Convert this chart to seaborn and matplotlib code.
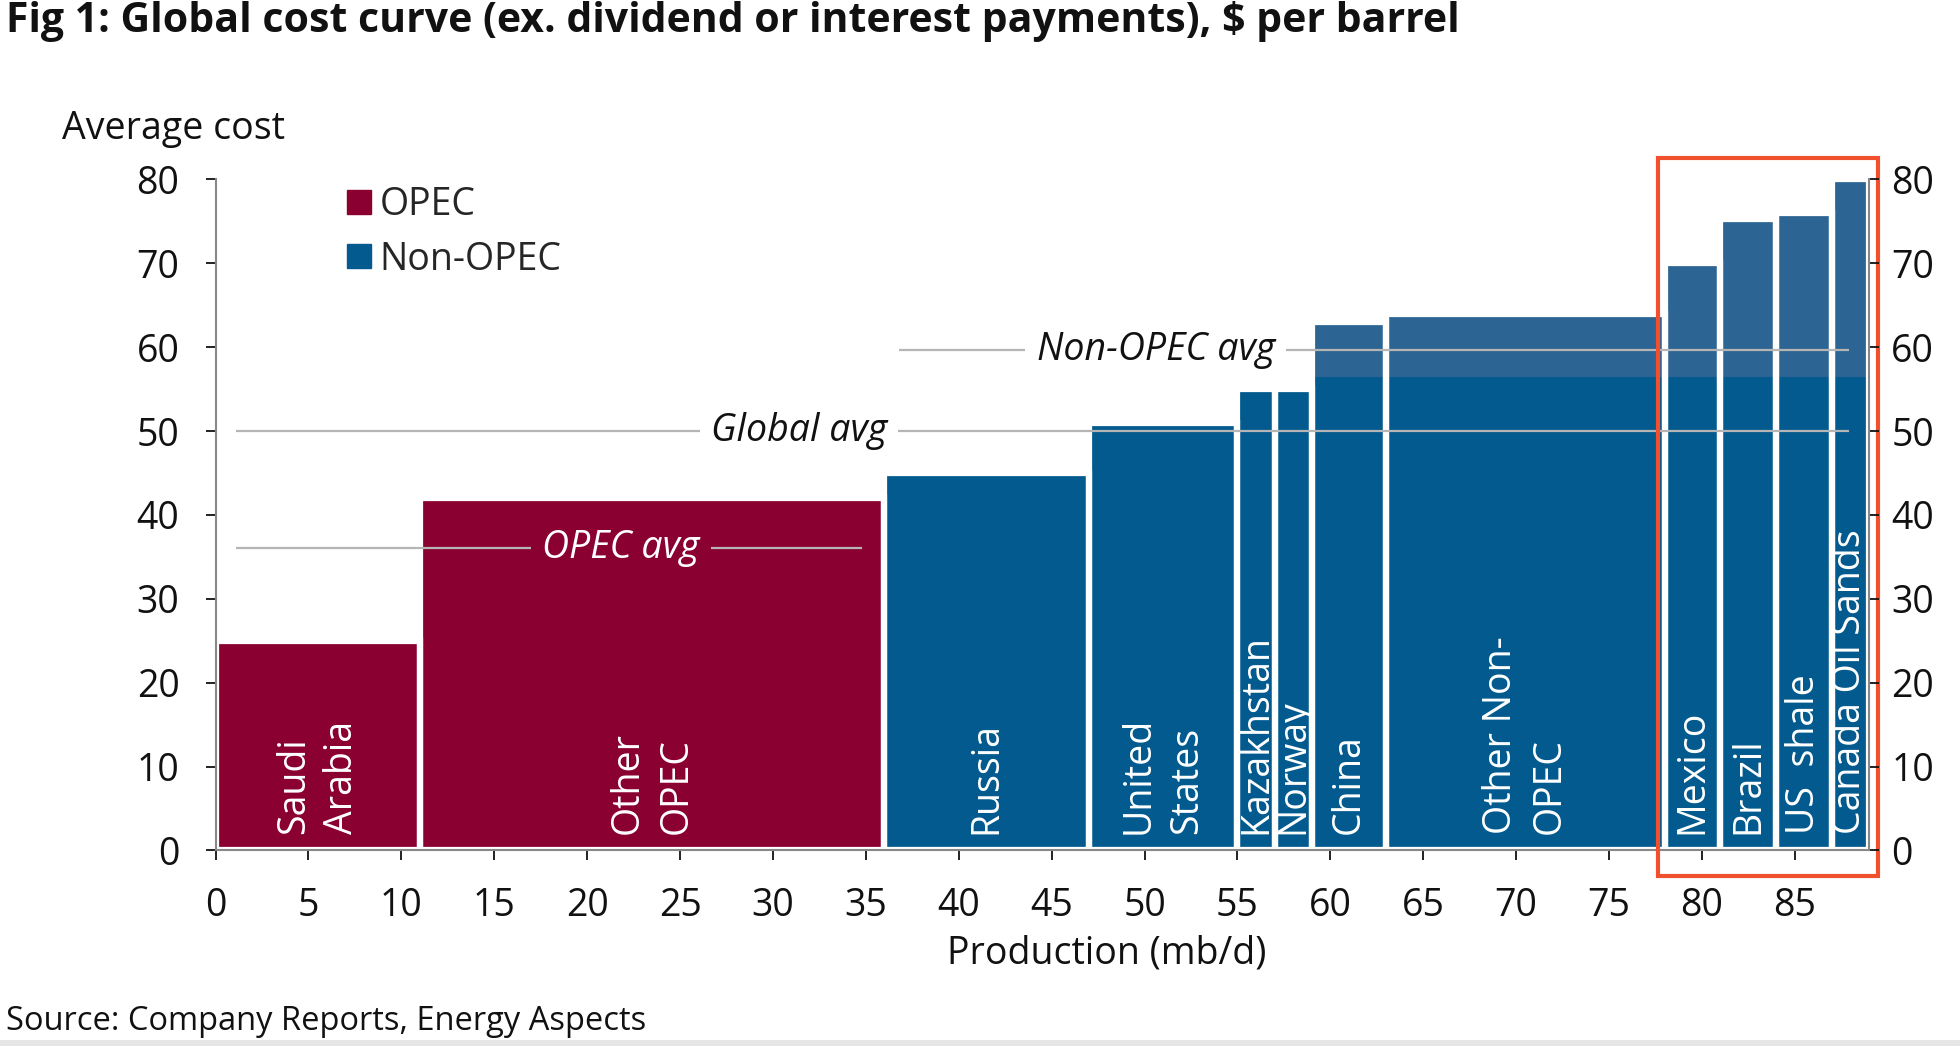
import matplotlib
matplotlib.use("Agg")
import matplotlib.pyplot as plt
from matplotlib.lines import Line2D
from matplotlib.patches import Rectangle
import numpy as np
import pandas as pd
import seaborn as sns

# Cost curve data (production in mb/d, cost in $/bbl)
regions = ["Saudi\nArabia", "Other\nOPEC", "Russia", "United\nStates", "Kazakhstan", "Norway",
           "China", "Other Non-\nOPEC", "Mexico", "Brazil", "US  shale", "Canada Oil Sands"]
groups = ["OPEC", "OPEC"] + ["Non-OPEC"] * 10
production = [11, 25, 11, 8, 2, 2, 4, 15, 3, 3, 3, 2]
avg_cost = [25, 42, 45, 51, 55, 55, 63, 64, 70, 75.3, 76, 80]

avg_names = ["OPEC avg", "Global avg", "Non-OPEC avg"]
avg_values = [36, 50, 59.6]

OPEC_RED = "#8a0030"
NON_OPEC_BLUE = "#025a8e"
LIGHT_BLUE = "#2c6493"
palette = {"OPEC": OPEC_RED, "Non-OPEC": NON_OPEC_BLUE}
FS = 27

edges = np.concatenate([[0], np.cumsum(production)])
mids = edges[:-1] + np.array(production) / 2
df = pd.DataFrame({"region": regions, "group": groups, "mid": mids, "cost": avg_cost})
bins = [float(e) for e in edges]

sns.set_theme(style="white")
plt.rcParams["font.family"] = ["Open Sans", "DejaVu Sans"]

fig = plt.figure(figsize=(19.6, 10.46), dpi=100)
ax = fig.add_axes([0.110, 0.187, 0.8436, 0.6415])

# variable-width bars: one observation per bin, weighted by cost (faces only)
sns.histplot(data=df, x="mid", weights="cost", hue="group", hue_order=["OPEC", "Non-OPEC"],
             bins=bins, palette=palette, multiple="layer", alpha=1,
             linewidth=0, legend=False, ax=ax)
faces = [p for p in ax.patches if p.get_height() > 0]
for p in list(ax.patches):
    if p.get_height() == 0:
        p.remove()

# lighter top part of the high-cost bars
china_x = edges[regions.index("China")]
band_low = 56.4
for p in faces:
    if p.get_x() >= china_x - 1e-9 and p.get_height() > band_low:
        ax.add_patch(Rectangle((p.get_x(), band_low), p.get_width(), p.get_height() - band_low,
                               facecolor=LIGHT_BLUE, lw=0, zorder=1.2))

# white separators between the bars
n_before = len(ax.patches)
sns.histplot(data=df, x="mid", weights="cost", hue="group", hue_order=["OPEC", "Non-OPEC"],
             bins=bins, palette={"OPEC": "white", "Non-OPEC": "white"}, multiple="layer",
             fill=False, linewidth=4.5, legend=False, ax=ax)
for p in list(ax.patches[n_before:]):
    if p.get_height() == 0:
        p.remove()
    else:
        p.set_zorder(1.5)

ax.set_xlim(0, 89)
ax.set_ylim(0, 80)

# average lines with their labels
line_spans = [(1.1, 34.8), (1.1, 87.9), (36.8, 87.9)]
label_x = [21.8, 31.4, 50.6]
for name, val, (x0, x1), lx in zip(avg_names, avg_values, line_spans, label_x):
    ax.hlines(val, x0, x1, color="#b5b5b5", lw=1.6, zorder=3)
    on_red = name == "OPEC avg"
    ax.text(lx, val, name, ha="center", va="center", fontsize=FS, style="italic",
            color="white" if on_red else "#111111", zorder=4,
            bbox=dict(boxstyle="square,pad=0.3", fc=OPEC_RED if on_red else "white", ec="none"))

# region labels inside the bars
for name, m in zip(regions, mids):
    ax.text(m, 2, name, rotation=90, ha="center", va="bottom", multialignment="left",
            color="white", fontsize=FS, linespacing=1.35, zorder=4)

# highlight box around the most expensive producers
box_x0 = edges[regions.index("Mexico")] - 0.35
ax.add_patch(Rectangle((box_x0, -3.1), 89.5 - box_x0, 85.6, fill=False,
                       edgecolor="#f0502d", lw=3, clip_on=False, zorder=5))

ax.set_xticks(range(0, 90, 5))
ax.set_yticks(range(0, 81, 10))
ax.tick_params(axis="both", labelsize=FS, colors="#111111", length=7, width=1.3,
               direction="out")
ax.tick_params(axis="x", bottom=True, pad=19)
ax.tick_params(axis="y", left=True, pad=19)
for t in ax.get_xticklines() + ax.get_yticklines():
    t.set_color("#888888")
for side in ["left", "bottom"]:
    ax.spines[side].set_visible(True)
    ax.spines[side].set_color("#888888")
    ax.spines[side].set_linewidth(1.5)
ax.spines["top"].set_visible(False)
ax.spines["right"].set_visible(False)

# right-hand axis repeating the cost scale
ax2 = ax.twinx()
ax2.set_ylim(0, 80)
ax2.set_yticks(range(0, 81, 10))
ax2.grid(False)
ax2.tick_params(axis="y", right=True, labelsize=FS, colors="#111111", length=7, width=1.3,
                direction="out", pad=9)
for t in ax2.get_yticklines():
    t.set_color("#888888")
for side in ["top", "left", "bottom"]:
    ax2.spines[side].set_visible(False)
ax2.spines["right"].set_visible(True)
ax2.spines["right"].set_color("#888888")
ax2.spines["right"].set_linewidth(1.5)

ax.set_xlabel("Production (mb/d)", fontsize=FS, color="#111111")
ax.xaxis.set_label_coords(0.539, -0.153)
ax.xaxis.label.set_va("center")
ax.set_ylabel("")

handles = [Line2D([], [], marker="s", ls="none", color=palette[g], markersize=17) for g in palette]
ax.legend(handles, list(palette), loc="upper left", bbox_to_anchor=(0.055, 1.041), frameon=False,
          fontsize=FS, handletextpad=0.05, labelspacing=0.45, handlelength=1.0)

fig.text(0.003, 1 - 21 / 1046, "Fig 1: Global cost curve (ex. dividend or interest payments), $ per barrel",
         fontsize=29.5, fontweight="bold", va="center", color="#111111")
fig.text(62 / 1960, 1 - 129 / 1046, "Average cost", fontsize=FS, va="center", color="#111111")
fig.text(0.003, 1 - 1022 / 1046, "Source: Company Reports, Energy Aspects", fontsize=23.5,
         va="center", color="#111111")
fig.add_artist(Rectangle((0, 0), 1, 6 / 1046, transform=fig.transFigure, color="#e6e6e6", lw=0))

fig.savefig("out.png", dpi=100)
